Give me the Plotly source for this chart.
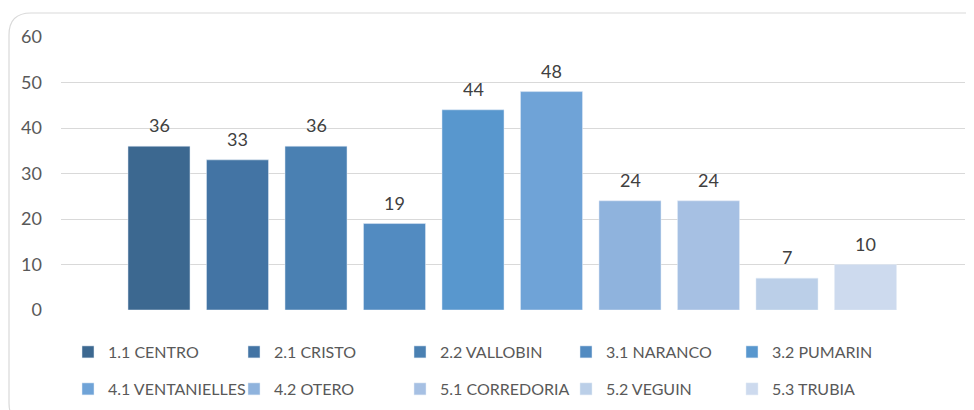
import plotly.graph_objects as go

barrios = ["1.1 CENTRO", "2.1 CRISTO", "2.2 VALLOBIN", "3.1 NARANCO", "3.2 PUMARIN",
           "4.1 VENTANIELLES", "4.2 OTERO", "5.1 CORREDORIA", "5.2 VEGUIN", "5.3 TRUBIA"]
valores = [36, 33, 36, 19, 44, 48, 24, 24, 7, 10]
colores = ["#3C6890", "#4374A4", "#4A80B2", "#528BC1", "#5897CE",
           "#6FA3D7", "#8FB3DD", "#A6C0E3", "#BBCFE8", "#CDDAEE"]
y_ticks = [0, 10, 20, 30, 40, 50, 60]

# the page body has an 8px margin, so screen px = figure px + 8
OFF = 8
W, H = 974, 410
ML, MT = 61 - OFF, 37 - OFF
MR, MB = W - (965 - OFF), H - (310 - OFF)
pw, ph = W - ML - MR, H - MT - MB

def px_x(p):
    return (p - OFF - ML) / pw

def px_y(p):
    return 1 - (p - OFF - MT) / ph

fig = go.Figure()
for i, (nombre, v, c) in enumerate(zip(barrios, valores, colores)):
    fig.add_trace(go.Bar(
        x=[nombre], y=[v], name=nombre, marker_color=c,
        legend="legend" if i < 5 else "legend2",
    ))
    fig.add_annotation(x=nombre, y=v, text=str(v), showarrow=False,
                       yanchor="middle", yshift=21,
                       font=dict(size=18, color="#404040"))

# rounded chart border (Excel style)
x0, y0, x1, y1, r = 9, 13, 990, 425, 22
path = (f"M {px_x(x0)},{px_y(y0 + r)} "
        f"Q {px_x(x0)},{px_y(y0)} {px_x(x0 + r)},{px_y(y0)} "
        f"L {px_x(x1)},{px_y(y0)} "
        f"M {px_x(x0)},{px_y(y0 + r)} "
        f"L {px_x(x0)},{px_y(y1 - r)} "
        f"Q {px_x(x0)},{px_y(y1)} {px_x(x0 + r)},{px_y(y1)}")

leg = dict(orientation="h", xanchor="left", yanchor="middle",
           entrywidth=121, itemwidth=30, bgcolor="rgba(0,0,0,0)",
           font=dict(size=16, color="#595959"))

# category pitch ~78.5 px, first bar centre at x=159
pitch = 78.5
first = (159 - 61) / pitch

fig.update_layout(
    width=W, height=H,
    margin=dict(l=ML, r=MR, t=MT, b=MB, autoexpand=False),
    paper_bgcolor="white", plot_bgcolor="white",
    font=dict(family="Lato, Carlito, Calibri, sans-serif", size=16, color="#595959"),
    barmode="overlay", bargap=0.21,
    showlegend=True,
    legend=dict(leg, x=px_x(68), y=px_y(352)),
    legend2=dict(leg, x=px_x(68), y=px_y(389)),
    shapes=[dict(type="path", path=path, xref="paper", yref="paper",
                 line=dict(color="#D9D9D9", width=1.2))],
)
fig.update_xaxes(range=[-first, -first + pw / pitch], showticklabels=False,
                 showgrid=False, zeroline=False, showline=False)
fig.update_yaxes(range=[0, 60], tickvals=y_ticks, showgrid=True, gridcolor="#D9D9D9",
                 gridwidth=1, zeroline=False, showline=False, ticks="",
                 tickfont=dict(size=18, color="#595959"), ticklabelstandoff=18)

fig.write_html("out.html")
